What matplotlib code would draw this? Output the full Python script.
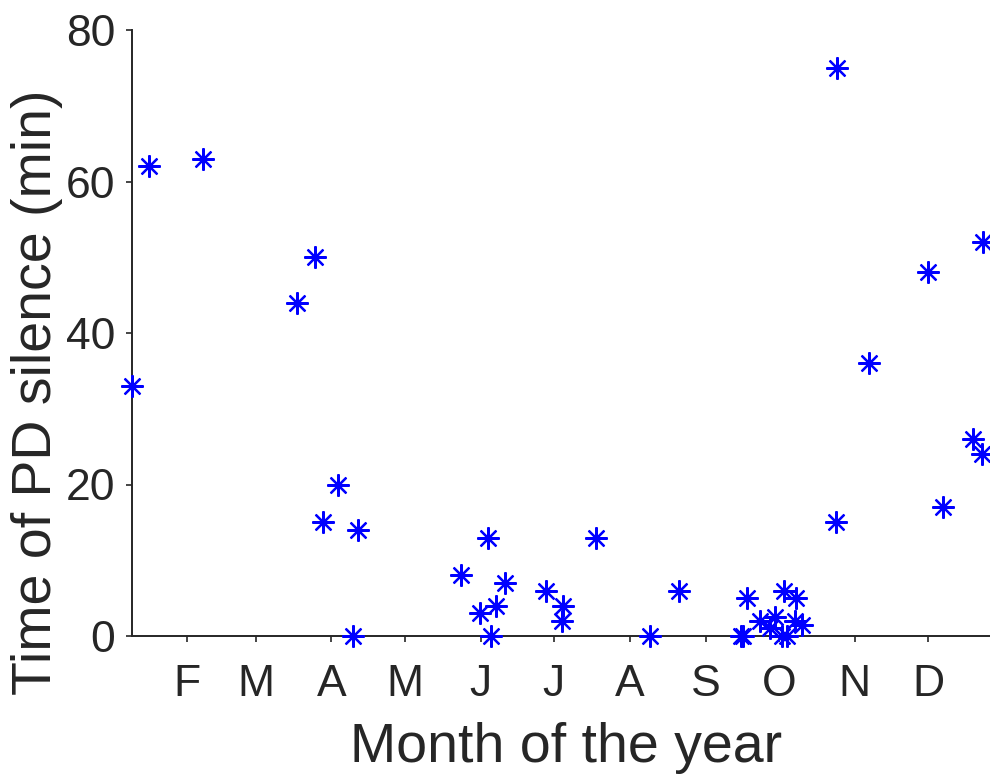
import matplotlib
matplotlib.use("Agg")
import matplotlib.pyplot as plt

# Day of year of each observation and time of PD silence (min)
day_of_year = [9.6, 16.6, 38.7, 77.1, 84.2, 87.6, 93.7, 99.9, 101.9,
               143.9, 151.8, 155.0, 156.2, 158.2, 162.0, 178.8, 185.2, 185.9,
               199.1, 221.2, 233.0, 258.5, 259.5, 261.0, 266.4, 270.4, 272.5,
               275.2, 275.9, 277.2, 280.6, 281.0, 283.4, 297.4, 297.6, 311.0,
               335.0, 341.0, 353.5, 357.0, 357.5]
silence_min = [33, 62, 63, 44, 50, 15, 20, 0, 14,
               8, 3, 13, 0, 4, 7, 6, 2, 4,
               13, 0, 6, 0, 0, 5, 2, 1, 2.5,
               0, 6, 0, 2, 5, 1.5, 15, 75, 36,
               48, 17, 26, 24, 52]

month_ticks = [32, 60, 91, 121, 152, 182, 213, 244, 274, 305, 335]
month_labels = ["F", "M", "A", "M", "J", "J", "A", "S", "O", "N", "D"]
y_ticks = [0, 20, 40, 60, 80]

plt.rcParams['font.family'] = ['Liberation Sans', 'DejaVu Sans']
txt = '#262626'

fig = plt.figure(figsize=(9.9, 7.74), dpi=100)
ax = fig.add_axes([132/990, 138/774, 868/990, 606/774])

ax.plot(day_of_year, silence_min, linestyle='none', marker=(8, 2, 0),
        markersize=16, markeredgewidth=1.6, color='#0000ff', clip_on=False,
        zorder=3)

ax.set_xlim(9.5, 364.4)
ax.set_ylim(0, 80)
ax.set_xticks(month_ticks)
ax.set_xticklabels(month_labels)
ax.set_yticks(y_ticks)

for s in ['top', 'right']:
    ax.spines[s].set_visible(False)
for s in ['left', 'bottom']:
    ax.spines[s].set_color(txt)
    ax.spines[s].set_linewidth(1.4)

ax.tick_params(axis='both', direction='out', length=4, width=1.2,
               colors=txt, labelsize=32, labelcolor=txt)
ax.tick_params(axis='x', pad=16)
ax.tick_params(axis='y', pad=8)

ax.set_xlabel("Month of the year", fontsize=40, color=txt)
ax.set_ylabel("Time of PD silence (min)", fontsize=40, color=txt)
ax.xaxis.set_label_coords(0.5, -(722 - 636) / 606)
ax.yaxis.set_label_coords((63 - 132) / 868, (636 - 392) / 606)

fig.savefig("out.png", dpi=100)
